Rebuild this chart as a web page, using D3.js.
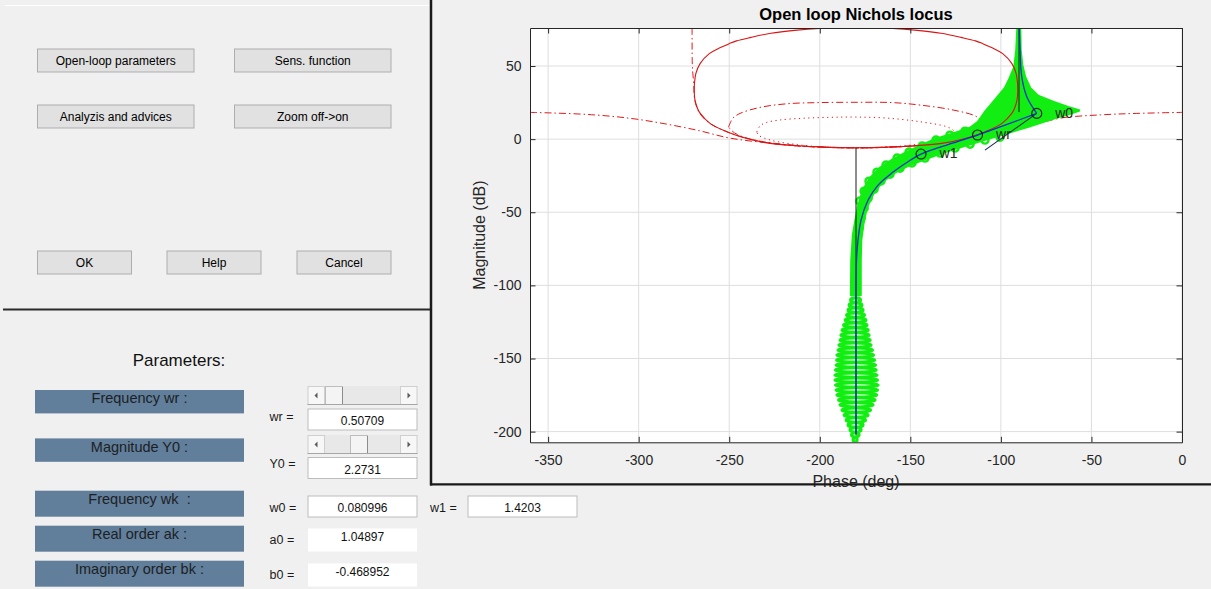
<!DOCTYPE html>
<html>
<head>
<meta charset="utf-8">
<script src="https://cdn.jsdelivr.net/npm/d3@7"></script>
<style>
  html, body { margin: 0; padding: 0; background: #f0f0f0; }
  svg { display: block; font-family: "Liberation Sans", Arial, Helvetica, sans-serif; }
  .pre { white-space: pre; }
</style>
</head>
<body>
<svg id="fig" width="1211" height="589"></svg>
<script>
// ---------------- chart data (phase in deg, magnitude in dB) ----------------
const phaseTicks = [-350, -300, -250, -200, -150, -100, -50, 0];
const magTicks = [-200, -150, -100, -50, 0, 50];

// nominal open-loop Nichols locus (low magnitude part up to w0, then up to the top)
const locusLow = [[-180, -201.5], [-180, -150], [-180, -100], [-179.4, -75.9], [-177.2, -55.3],
  [-173.3, -41.6], [-167.8, -31.4], [-159.5, -22.5], [-152.4, -16.3], [-144.1, -10.2],
  [-128.1, -3.3], [-112.9, 2.8], [-97.7, 9.6], [-80.2, 17.6]];
const locusHigh = [[-80.2, 17.6], [-85.7, 29.0], [-88.5, 42.7], [-89.4, 60.9], [-89.8, 76]];

// frequency marks on the locus
const markNames = ["w1", "wr", "w0"];
const markPhase = [-144.1, -112.9, -80.2];
const markMag = [-10.2, 2.8, 17.6];

// closed-loop magnitude contour tangent at wr (solid)
const contourMr = [[-180, 76.0], [-200, 75.7], [-214, 74.4], [-227, 72.4], [-238, 69.6], [-246, 67.2],
  [-250, 65.3], [-256, 62.0], [-261, 58.5], [-266, 51.8], [-268.4, 45], [-269.2, 38], [-269.3, 32],
  [-268.9, 26.7], [-267.5, 21], [-266, 17.6], [-260.6, 10.8], [-251.4, 5.1], [-240.3, 0.5],
  [-227.4, -2.9], [-212, -4.5], [-199.8, -5.3], [-180, -5.9], [-160.2, -5.3], [-148, -4.5],
  [-132.6, -2.9], [-119.7, 0.5], [-108.6, 5.1], [-99.4, 10.8], [-94, 17.6], [-92.5, 21],
  [-91.1, 26.7], [-90.7, 32], [-90.8, 38], [-91.6, 45], [-94, 51.8], [-99, 58.5], [-104, 62.0],
  [-110, 65.3], [-114, 67.2], [-122, 69.6], [-133, 72.4], [-146, 74.4], [-160, 75.7], [-180, 76.0]];

// unit closed-loop magnitude contour (dash-dot)
const contourUnit = [[-270.5, 76], [-270.4, 52], [-270.1, 45], [-269.6, 38], [-269.4, 32], [-269, 26.5],
  [-267.6, 21], [-266.2, 17.5], [-261, 11], [-252, 5.4], [-241, 0.8], [-228, -2.6], [-213, -4.6],
  [-200, -5.5], [-180, -6.0], [-160, -5.5], [-147, -4.6], [-132, -2.6], [-119, 0.8], [-108, 5.4],
  [-99, 11], [-93.8, 17.5], [-92.4, 21], [-91, 26.5], [-90.6, 32], [-90.4, 38], [-89.9, 45],
  [-89.6, 52], [-89.5, 76]];

// open contour below the critical point (dash-dot)
const contourLow = [[-360, 18.3], [-348, 17.9], [-326, 16.7], [-305, 14.3], [-286, 10.6], [-267, 5.9],
  [-250, 0.8], [-231, -2.3], [-212, -4.6], [-194, -5.6], [-180, -5.9], [-166, -5.6], [-148, -4.6],
  [-129, -2.3], [-110, 0.9], [-93, 6.2], [-78, 11.2], [-66, 14.6], [-45, 16.6], [-25, 17.6], [0, 18.3]];

// inner closed contours (dash-dot and dotted)
const contourInner = [[-250.4, 8.3], [-247.9, 14.4], [-244, 17.6], [-233, 21.7], [-218, 24.2],
  [-200, 25.0], [-180, 25.2], [-160, 25.0], [-144.6, 23.3], [-126.3, 19.9], [-113.3, 15.3],
  [-110, 11], [-109.6, 8.3], [-113, 4.2], [-121.5, 0.1], [-138, -3.3], [-160, -5.4], [-180, -6.0],
  [-200, -5.4], [-222, -3.3], [-238.5, 0.1], [-247, 4.2], [-250.4, 8.3]];
const contourDotted = [[-234.8, 4.9], [-233, 9.0], [-229.7, 11.3], [-222, 13.1], [-209, 14.3],
  [-194, 14.9], [-180, 15.1], [-163, 14.4], [-144.6, 11.9], [-129.9, 8.5], [-126.4, 6.2],
  [-125.2, 4.9], [-126.5, 2.5], [-132.6, -0.6], [-149, -4.0], [-165.7, -5.5], [-180, -5.9],
  [-194.3, -5.5], [-211, -4.0], [-227.4, -0.6], [-233.5, 2.5], [-234.8, 4.9]];

// straight segments
const asymptoteLow = [[-180, -6.2], [-180, -202.5]];
const asymptoteHigh = [[-90, 76], [-90, 18.5]];
const templateSegment = [[-108.8, -7.5], [-80.2, 17.6]];

// uncertain-plant loci: outline of the upper band
const bandOutline = [[-90.8, 76], [-91.4, 60.9], [-92.5, 49.3], [-95.0, 41.8], [-97.7, 35.0],
  [-103.2, 26.7], [-108.8, 18.5], [-112.6, 11.7], [-117.0, 7.6], [-126.4, 3.8], [-135.8, 0.1],
  [-144.6, -4.7], [-152.9, -9.5], [-160.1, -14.3], [-166.8, -19.8], [-172.2, -26.6], [-176.1, -34.8],
  [-178.6, -45.1], [-180.2, -55.3], [-181.6, -65.6], [-182.5, -82.7], [-182.7, -106.6],
  [-177.5, -106.6], [-177.5, -82.7], [-177.2, -69.0], [-176.1, -58.7], [-174.2, -47.1],
  [-170.6, -37.5], [-165.6, -29.3], [-159.5, -23.5], [-151.8, -18.4], [-143.5, -14.3],
  [-133.6, -9.8], [-125.3, -6.4], [-115.9, -3.0], [-106.0, 0.8], [-96.6, 4.2], [-85.6, 8.3],
  [-71.2, 14.1], [-61.8, 17.5], [-56.9, 19.6], [-62.9, 21.9], [-71.2, 25.4], [-79.5, 29.5],
  [-83.9, 34.9], [-86.7, 42.5], [-88.3, 50.7], [-89.2, 60.9], [-89.4, 76]];

// template markers along the band edges
const bandRings = [[-100.5, 1.4], [-108.8, -0.6], [-117.0, -3.4], [-125.3, -6.1], [-133.6, -9.5],
  [-141.9, -12.9], [-149.1, -16.3], [-155.7, -19.8], [-161.2, -23.9], [-166.2, -28.6],
  [-170.0, -34.1], [-173.3, -40.3], [-175.5, -47.1], [-177.2, -54.0], [-178.3, -60.8],
  [-119.8, 5.4], [-128.1, 2.7], [-135.8, -0.7], [-143.5, -4.8], [-150.7, -8.9], [-157.3, -13.0],
  [-163.4, -17.8], [-168.4, -22.6], [-172.8, -28.8], [-175.5, -35.6], [-177.8, -42.4]];

// high-frequency templates (one flat template per frequency)
const spindleMag = [-110.0, -113.4, -116.9, -120.3, -123.7, -127.1, -130.5, -133.9, -137.4, -140.8,
  -144.2, -147.6, -151.0, -154.4, -157.8, -161.3, -164.7, -168.1, -171.5, -174.9, -178.3, -181.7,
  -185.2, -188.6, -192.0, -195.4, -198.8, -202.2, -205.6];
const spindleMin = [-183.0, -183.8, -184.4, -185.2, -186.0, -186.9, -187.7, -188.3, -188.8, -189.4,
  -189.9, -190.5, -190.7, -191.0, -191.3, -191.6, -191.6, -191.3, -191.0, -190.5, -189.6, -188.8,
  -187.7, -186.6, -185.5, -184.4, -183.3, -182.5, -181.6];
const spindleMax = [-177.5, -176.7, -176.1, -175.3, -174.5, -173.9, -173.3, -172.8, -172.2, -171.7,
  -170.9, -170.3, -169.7, -169.2, -168.9, -168.4, -168.1, -167.8, -168.1, -168.6, -169.5, -170.6,
  -172.0, -173.3, -174.7, -176.1, -177.2, -178.3, -179.4];

// ---------------- figure ----------------
const svg = d3.select("#fig");
svg.append("rect").attr("width", 1211).attr("height", 589).attr("fill", "#f0f0f0");

// ----- control panel (top left) -----
const buttons = [
  { label: "Open-loop parameters", x: 37, y: 48.5, w: 157.5, h: 24 },
  { label: "Sens. function", x: 234, y: 48.5, w: 157.5, h: 24 },
  { label: "Analyzis and advices", x: 37, y: 104.5, w: 157.5, h: 24 },
  { label: "Zoom off->on", x: 234, y: 104.5, w: 157.5, h: 24 },
  { label: "OK", x: 37, y: 250.5, w: 95, h: 24 },
  { label: "Help", x: 166.5, y: 250.5, w: 95, h: 24 },
  { label: "Cancel", x: 296.5, y: 250.5, w: 95, h: 24 }
];
const btn = svg.append("g").selectAll("g").data(buttons).join("g");
btn.append("rect").attr("x", d => d.x + 0.5).attr("y", d => d.y + 0.5)
  .attr("width", d => d.w - 1).attr("height", d => d.h - 1)
  .attr("fill", "#e1e1e1").attr("stroke", "#adadad").attr("stroke-width", 1);
btn.append("text").attr("x", d => d.x + d.w / 2).attr("y", d => d.y + d.h / 2 + 4.3)
  .attr("text-anchor", "middle").attr("font-size", 12).attr("fill", "#000").text(d => d.label);

// panel edges
svg.append("line").attr("x1", 5).attr("x2", 429).attr("y1", 5.5).attr("y2", 5.5)
  .attr("stroke", "#ffffff").attr("stroke-width", 1);
svg.append("line").attr("x1", 3).attr("x2", 431).attr("y1", 309.5).attr("y2", 309.5)
  .attr("stroke", "#2b2b2b").attr("stroke-width", 2.2);

// ----- parameters panel (bottom left) -----
svg.append("text").attr("x", 179).attr("y", 366).attr("text-anchor", "middle")
  .attr("font-size", 17).attr("fill", "#111").text("Parameters:");

const paramLabels = [
  { text: "Frequency wr :", y: 390, h: 23.4 },
  { text: "Magnitude Y0 :", y: 438.4, h: 23.4 },
  { text: "Frequency wk  :", y: 490.7, h: 26 },
  { text: "Real order ak :", y: 525.7, h: 26 },
  { text: "Imaginary order bk :", y: 560.7, h: 26 }
];
const pl = svg.append("g").selectAll("g").data(paramLabels).join("g");
pl.append("rect").attr("x", 35).attr("y", d => d.y).attr("width", 209).attr("height", d => d.h)
  .attr("fill", "#617e9b");
pl.append("text").attr("class", "pre").attr("x", 139.5).attr("y", d => d.y + 13.4)
  .attr("text-anchor", "middle").attr("font-size", 14.5).attr("fill", "#1c1f24").text(d => d.text);

// sliders
function slider(x0, y0, w, h, thumbX) {
  const g = svg.append("g");
  g.append("rect").attr("x", x0).attr("y", y0).attr("width", w).attr("height", h).attr("fill", "#e8e8e8");
  [x0, x0 + w - 17.5].forEach(bx => {
    g.append("rect").attr("x", bx + 0.5).attr("y", y0 + 0.5).attr("width", 16.5).attr("height", h - 1)
      .attr("fill", "#f7f7f7").attr("stroke", "#cfcfcf");
  });
  const cy = y0 + h / 2;
  g.append("path").attr("d", `M${x0 + 7},${cy} L${x0 + 10},${cy - 3} L${x0 + 10},${cy + 3} Z`).attr("fill", "#5a5a5a");
  const rx = x0 + w - 8.5;
  g.append("path").attr("d", `M${rx + 1.5},${cy} L${rx - 1.5},${cy - 3} L${rx - 1.5},${cy + 3} Z`).attr("fill", "#5a5a5a");
  g.append("rect").attr("x", thumbX + 0.5).attr("y", y0 + 0.5).attr("width", 17).attr("height", h - 1)
    .attr("fill", "#f4f4f4").attr("stroke", "#bdbdbd");
  g.append("line").attr("x1", thumbX + 17.5).attr("x2", thumbX + 17.5).attr("y1", y0 + 1).attr("y2", y0 + h)
    .attr("stroke", "#8c8c8c");
  g.append("line").attr("x1", x0).attr("x2", x0 + w).attr("y1", y0 + h - 0.5).attr("y2", y0 + h - 0.5)
    .attr("stroke", "#a6a6a6");
}
slider(307.5, 386, 110, 19, 325);
slider(307.5, 435, 110, 19, 350);

// edit fields and read-only values
const fields = [
  { x: 307.5, y: 408.5, w: 110, h: 22, v: "0.50709", b: 425, border: true },
  { x: 307.5, y: 457, w: 110, h: 22, v: "2.2731", b: 474, border: true },
  { x: 307.5, y: 495.5, w: 110, h: 22, v: "0.080996", b: 512, border: true },
  { x: 467.5, y: 495.5, w: 110, h: 22, v: "1.4203", b: 512, border: true },
  { x: 307.5, y: 528, w: 110, h: 24, v: "1.04897", b: 540.5, border: false },
  { x: 307.5, y: 563, w: 110, h: 24, v: "-0.468952", b: 575.5, border: false }
];
const fg = svg.append("g").selectAll("g").data(fields).join("g");
fg.append("rect").attr("x", d => d.x + 0.5).attr("y", d => d.y + 0.5)
  .attr("width", d => d.w - 1).attr("height", d => d.h - 1)
  .attr("fill", "#ffffff").attr("stroke", d => d.border ? "#bcbcbc" : "none");
fg.append("text").attr("x", d => d.x + d.w / 2).attr("y", d => d.b).attr("text-anchor", "middle")
  .attr("font-size", 12).attr("fill", "#111").text(d => d.v);

const eqLabels = [
  { t: "wr =", x: 269.5, y: 420.5 }, { t: "Y0 =", x: 269.5, y: 468 },
  { t: "w0 =", x: 269.5, y: 511.5 }, { t: "w1 =", x: 430, y: 511.5 },
  { t: "a0 =", x: 269.5, y: 544 }, { t: "b0 =", x: 269.5, y: 579 }
];
svg.append("g").selectAll("text").data(eqLabels).join("text")
  .attr("x", d => d.x).attr("y", d => d.y).attr("font-size", 12.5).attr("fill", "#1a1a1a").text(d => d.t);

// ----- Nichols chart -----
const plot = { left: 530, right: 1182, top: 28, bottom: 442.3 };
const x = d3.scaleLinear().domain([-360, 0]).range([plot.left, plot.right]);
const y = d3.scaleLinear().domain([-207.3, 76]).range([plot.bottom, plot.top]);

svg.append("rect").attr("x", plot.left).attr("y", plot.top)
  .attr("width", plot.right - plot.left).attr("height", plot.bottom - plot.top).attr("fill", "#ffffff");

svg.append("clipPath").attr("id", "plotclip").append("rect")
  .attr("x", plot.left).attr("y", plot.top)
  .attr("width", plot.right - plot.left).attr("height", plot.bottom - plot.top);

// grid
const grid = svg.append("g").attr("stroke", "#dedede").attr("stroke-width", 1);
grid.selectAll("line.v").data(phaseTicks).join("line").attr("class", "v")
  .attr("x1", d => x(d)).attr("x2", d => x(d)).attr("y1", plot.top).attr("y2", plot.bottom);
grid.selectAll("line.h").data(magTicks).join("line").attr("class", "h")
  .attr("x1", plot.left).attr("x2", plot.right).attr("y1", d => y(d)).attr("y2", d => y(d));

const layer = svg.append("g").attr("clip-path", "url(#plotclip)");
const smooth = d3.line().x(d => x(d[0])).y(d => y(d[1])).curve(d3.curveCatmullRom.alpha(0.5));
const straight = d3.line().x(d => x(d[0])).y(d => y(d[1]));

// broken-line contours (under the templates)
const red = "#e01818";
layer.append("path").attr("d", smooth(contourLow)).attr("fill", "none").attr("stroke", red)
  .attr("stroke-width", 1).attr("stroke-dasharray", "7,3,1.5,3");
layer.append("path").attr("d", smooth(contourUnit)).attr("fill", "none").attr("stroke", red)
  .attr("stroke-width", 1).attr("stroke-dasharray", "7,3,1.5,3");
layer.append("path").attr("d", smooth(contourInner)).attr("fill", "none").attr("stroke", red)
  .attr("stroke-width", 1).attr("stroke-dasharray", "7,3,1.5,3");
layer.append("path").attr("d", smooth(contourDotted)).attr("fill", "none").attr("stroke", red)
  .attr("stroke-width", 1).attr("stroke-dasharray", "1.2,3.5");

// uncertain-plant templates
const green = "#12ee12";
layer.append("path").attr("d", straight(bandOutline) + "Z").attr("fill", green)
  .attr("stroke", green).attr("stroke-width", 2.5).attr("stroke-linejoin", "round");
layer.append("g").selectAll("circle").data(bandRings).join("circle")
  .attr("cx", d => x(d[0])).attr("cy", d => y(d[1])).attr("r", 3.6)
  .attr("fill", "none").attr("stroke", green).attr("stroke-width", 2.4);
layer.append("g").selectAll("ellipse").data(spindleMag).join("ellipse")
  .attr("cx", (d, i) => (x(spindleMin[i]) + x(spindleMax[i])) / 2)
  .attr("cy", d => y(d))
  .attr("rx", (d, i) => (x(spindleMax[i]) - x(spindleMin[i])) / 2)
  .attr("ry", 2.2)
  .attr("fill", "none").attr("stroke", green).attr("stroke-width", 3.2);

// solid magnitude contour
layer.append("path").attr("d", smooth(contourMr)).attr("fill", "none").attr("stroke", "#d81414")
  .attr("stroke-width", 1.1);

// asymptotes and template segment
layer.append("path").attr("d", straight(asymptoteLow)).attr("stroke", "#1a1a1a").attr("stroke-width", 1).attr("fill", "none");
layer.append("path").attr("d", straight(asymptoteHigh)).attr("stroke", "#1a1a1a").attr("stroke-width", 1).attr("fill", "none");
layer.append("path").attr("d", straight(templateSegment)).attr("stroke", "#1a2a5a").attr("stroke-width", 1.1).attr("fill", "none");

// nominal locus
layer.append("path").attr("d", smooth(locusLow)).attr("fill", "none").attr("stroke", "#1030d0").attr("stroke-width", 1.3);
layer.append("path").attr("d", smooth(locusHigh)).attr("fill", "none").attr("stroke", "#1030d0").attr("stroke-width", 1.3);

// frequency marks
const marks = layer.append("g").selectAll("g").data(markNames).join("g");
marks.append("circle").attr("cx", (d, i) => x(markPhase[i])).attr("cy", (d, i) => y(markMag[i]))
  .attr("r", 5).attr("fill", "none").attr("stroke", "#1a1a1a").attr("stroke-width", 1.1);
marks.append("text").attr("x", (d, i) => x(markPhase[i]) + 18.5).attr("y", (d, i) => y(markMag[i]) + 4.4)
  .attr("font-size", 14).attr("fill", "#262626").text(d => d);

// axes (inward ticks on all four sides)
const axisColor = "#262626";
const plain = d => String(d);
function styleAxis(g) {
  g.select(".domain").attr("stroke", axisColor);
  g.selectAll(".tick line").attr("stroke", axisColor);
  g.selectAll(".tick text").attr("fill", axisColor).attr("font-size", 14)
    .attr("font-family", '"Liberation Sans", Arial, Helvetica, sans-serif');
}
svg.append("g").attr("transform", `translate(0,${plot.bottom})`)
  .call(d3.axisBottom(x).tickValues(phaseTicks).tickSize(-5.5).tickSizeOuter(0).tickFormat(plain))
  .call(styleAxis)
  .call(g => g.selectAll(".tick text").attr("y", 23.2).attr("dy", 0));
svg.append("g").attr("transform", `translate(0,${plot.top})`)
  .call(d3.axisTop(x).tickValues(phaseTicks).tickSize(-5.5).tickSizeOuter(0).tickFormat(""))
  .call(styleAxis);
svg.append("g").attr("transform", `translate(${plot.left},0)`)
  .call(d3.axisLeft(y).tickValues(magTicks).tickSize(-5.5).tickSizeOuter(0).tickPadding(8.5).tickFormat(plain))
  .call(styleAxis);
svg.append("g").attr("transform", `translate(${plot.right},0)`)
  .call(d3.axisRight(y).tickValues(magTicks).tickSize(-5.5).tickSizeOuter(0).tickFormat(""))
  .call(styleAxis);

// titles
svg.append("text").attr("x", (plot.left + plot.right) / 2).attr("y", 19.5).attr("text-anchor", "middle")
  .attr("font-size", 16.5).attr("font-weight", "bold").attr("fill", "#000").text("Open loop Nichols locus");
svg.append("text").attr("x", (plot.left + plot.right) / 2).attr("y", 487).attr("text-anchor", "middle")
  .attr("font-size", 16).attr("fill", axisColor).text("Phase (deg)");
svg.append("text").attr("transform", `translate(485,${(plot.top + plot.bottom) / 2}) rotate(-90)`)
  .attr("text-anchor", "middle").attr("font-size", 16).attr("fill", axisColor).text("Magnitude (dB)");

// chart panel frame
svg.append("line").attr("x1", 431).attr("x2", 431).attr("y1", 0).attr("y2", 485.5)
  .attr("stroke", "#1a1a1a").attr("stroke-width", 2.5);
svg.append("line").attr("x1", 430).attr("x2", 1211).attr("y1", 484.3).attr("y2", 484.3)
  .attr("stroke", "#1a1a1a").attr("stroke-width", 2.3);
</script>
</body>
</html>
